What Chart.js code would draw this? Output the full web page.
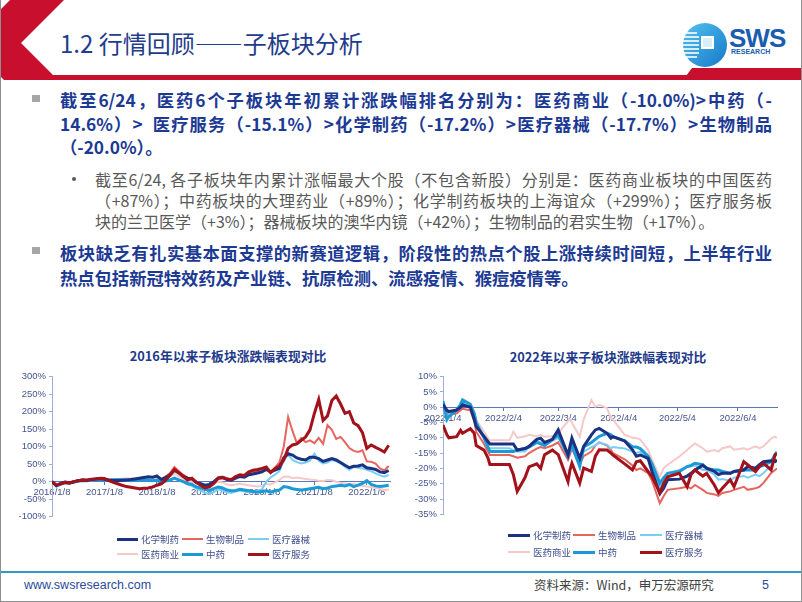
<!DOCTYPE html>
<html lang="zh-CN">
<head>
<meta charset="UTF-8">
<title>1.2 行情回顾——子板块分析</title>
<script src="https://cdn.jsdelivr.net/npm/chart.js"></script>
<style>
  body { margin: 0; background: #fff; }
  .slide { position: relative; width: 802px; height: 602px; overflow: hidden; background: #fff;
           font-family: "Noto Sans CJK SC", sans-serif; }
  .frame { position: absolute; left: 0; top: 0; width: 802px; height: 602px; box-sizing: border-box;
           border: 1px solid #8f8f8f; border-top: none; pointer-events: none; }
  .abs { position: absolute; }
  .title { left: 60px; top: 28px; font-size: 24px; line-height: 30px; color: #1f3c8c; white-space: nowrap; }
  .main { left: 60px; width: 712px; font-size: 17.3px; font-weight: bold; color: #1c3a94; }
  .sub { left: 95px; width: 677px; font-size: 16px; color: #595959; line-height: 21px; }
  .jl { text-align: justify; text-align-last: justify; white-space: nowrap; }
  .sq { width: 8px; height: 7px; background: #a6a6a6; }
  .ctitle { font-size: 12.8px; font-weight: bold; color: #1f3a8a; white-space: nowrap; transform: translateX(-50%); line-height: 16px; }
  .lg { font-size: 9.5px; line-height: 14px; color: #404f8e; white-space: nowrap; }
  canvas { position: absolute; }
  .foot { font-size: 12.5px; line-height: 16px; white-space: nowrap; }
</style>
</head>
<body>
<div class="slide" id="slide">
  <svg class="abs" style="left:0;top:0" width="802" height="90">
    <polygon fill="#c8102e" points="10,0 64,0 21,43 53,75 802,75 802,80 4,80 0,76 0,10"/>
    <polygon fill="#c8102e" points="683,80 692,68 802,68 802,80"/>
    <defs>
      <linearGradient id="lg1" x1="0" y1="0" x2="1" y2="1">
        <stop offset="0" stop-color="#53c1f0"/>
        <stop offset="1" stop-color="#1679c8"/>
      </linearGradient>
    </defs>
    <circle cx="705" cy="45" r="22" fill="url(#lg1)"/>
    <g stroke="#fff" stroke-width="1.6">
      <line x1="683" y1="33" x2="697" y2="33"/>
      <line x1="683" y1="37" x2="699" y2="37"/>
      <line x1="683" y1="41" x2="699" y2="41"/>
      <line x1="683" y1="45" x2="699" y2="45"/>
      <line x1="683" y1="49" x2="699" y2="49"/>
      <line x1="683" y1="53" x2="699" y2="53"/>
      <line x1="685" y1="57" x2="697" y2="57"/>
    </g>
    <rect x="701" y="36" width="13" height="13" fill="#fff"/>
    <rect x="703" y="38" width="9" height="9" fill="#d8eefa"/>
    <text x="729" y="47" font-family="Liberation Sans, Arial" font-weight="bold" font-size="26" fill="#1a5db0" letter-spacing="-1">SWS</text>
    <text x="731" y="54" font-family="Liberation Sans, Arial" font-weight="bold" font-size="7" fill="#1a5db0">RESEARCH</text>
  </svg>

  <div class="abs title">1.2 行情回顾——子板块分析</div>

  <div class="abs sq" style="left:32px;top:95px"></div>
  <div class="abs main" style="top:88px;line-height:23.5px">
    <div class="jl">截至6/24，医药6个子板块年初累计涨跌幅排名分别为：医药商业（-10.0%)&gt;中药（-</div>
    <div class="jl">14.6%）&gt;&nbsp; 医疗服务（-15.1%）&gt;化学制药（-17.2%）&gt;医疗器械（-17.7%）&gt;生物制品</div>
    <div>（-20.0%）。</div>
  </div>

  <div class="abs" style="left:72px;top:177px;width:4px;height:4px;border-radius:2px;background:#595959"></div>
  <div class="abs sub" style="top:168.5px">
    <div class="jl">截至6/24, 各子板块年内累计涨幅最大个股（不包含新股）分别是：医药商业板块的中国医药</div>
    <div class="jl">（+87%）；中药板块的大理药业（+89%）；化学制药板块的上海谊众（+299%）；医疗服务板</div>
    <div>块的兰卫医学（+3%）；器械板块的澳华内镜（+42%）；生物制品的君实生物（+17%）。</div>
  </div>

  <div class="abs sq" style="left:32px;top:247px"></div>
  <div class="abs main" style="top:239.5px;line-height:25px">
    <div class="jl">板块缺乏有扎实基本面支撑的新赛道逻辑，阶段性的热点个股上涨持续时间短，上半年行业</div>
    <div>热点包括新冠特效药及产业链、抗原检测、流感疫情、猴痘疫情等。</div>
  </div>

  <div class="abs ctitle" style="left:228px;top:348px">2016年以来子板块涨跌幅表现对比</div>
  <div class="abs ctitle" style="left:608px;top:349px">2022年以来子板块涨跌幅表现对比</div>

  <canvas id="chart16" width="390" height="162" style="left:10px;top:368px"></canvas>
  <canvas id="chart22" width="385" height="160" style="left:405px;top:368px"></canvas>

  <div class="abs" style="left:0;top:571px;width:802px;height:2px;background:#2e9bc6"></div>
  <div class="abs foot" style="left:24px;top:577px;color:#2b4a9b;font-family:'Liberation Sans',Arial">www.swsresearch.com</div>
  <div class="abs foot" style="left:534px;top:577px;color:#404040">资料来源：Wind，申万宏源研究</div>
  <div class="abs foot" style="left:762px;top:577px;color:#2b4a9b;font-family:'Liberation Sans',Arial">5</div>

  <div class="frame"></div>
</div>

<script>
  const seriesNames = ['化学制药', '生物制品', '医疗器械', '医药商业', '中药', '医疗服务'];
  const seriesColors = ['#1b3282', '#e8645e', '#78cff3', '#f6c9c9', '#1b9ad6', '#a3121b'];
  const seriesWidths = [3, 2, 2, 2, 3, 3];
  const seriesOrder = [1, 4, 3, 5, 2, 0];

  // 2016年以来，按月取值（%），第0个点为2016/1/8
  const monthTicks = [0, 12, 24, 36, 48, 60, 72];
  const monthTickLabels = ['2016/1/8', '2017/1/8', '2018/1/8', '2019/1/8', '2020/1/8', '2021/1/8', '2022/1/8'];
  const chem16 = [0,-11,-5,-1,-3,0,3,5,4,6,8,9,7, 5,4,3,4,5,6,8,10,12,14,13,
    16,6,12,20,33,25,15,10,8,-2,-6,-10, -8,0,10,12,6,4,10,15,13,20,22,25,
    28,35,28,33,38,68,80,76,68,64,62,70, 70,66,58,62,66,62,55,47,40,44,45,48, 40,38,35,28,26,32];
  const bio16 = [0,-12,-6,-2,-3,1,4,6,5,7,9,10,8, 6,5,4,3,5,6,8,10,12,14,13,
    18,8,15,25,42,30,20,12,10,0,-5,-14, -12,-2,12,15,10,8,15,20,18,25,28,30,
    35,40,28,40,55,100,185,145,110,125,113,118, 110,125,108,162,148,122,128,113,96,88,85,90, 58,57,52,38,32,45];
  const dev16 = [0,-13,-8,-3,-5,-2,1,3,2,4,5,6,4, 3,4,5,6,7,6,5,6,8,7,5,
    6,0,2,5,10,5,0,-8,-12,-20,-25,-32, -35,-30,-22,-25,-30,-32,-28,-25,-28,-30,-28,-25,
    -22,0,12,20,30,60,78,62,56,52,55,60, 80,60,52,55,62,58,52,43,34,42,40,38, 34,30,24,18,14,19];
  const comm16 = [0,-10,-5,-1,-2,1,3,4,4,6,7,8,6, 5,6,8,9,10,9,10,11,12,12,10,
    12,5,10,15,22,15,8,2,0,-5,-8,-12, -12,-6,0,-2,-8,-10,-8,-6,-8,-10,-12,-14,
    -12,-6,-8,-2,5,14,15,10,12,10,8,6, 5,3,2,5,4,0,-3,-5,-8,-6,-10,-12, -14,-15,-18,-20,-24,-22];
  const tcm16 = [0,-12,-7,-3,-4,-1,2,3,3,5,6,7,5, 4,5,6,5,4,3,4,5,5,4,3,
    4,-3,2,5,10,5,0,-5,-8,-15,-18,-22, -25,-20,-15,-18,-24,-26,-25,-22,-24,-26,-28,-30,
    -28,-26,-30,-26,-24,-14,-16,-20,-22,-24,-22,-20, -18,-16,-20,-18,-14,-12,-10,-12,-8,-14,-10,-5, 3,-8,-12,-14,-12,-10];
  const serv16 = [0,-10,-6,-2,-4,0,3,5,4,7,8,10,9, 3,-2,-6,-10,-14,-16,-18,-20,-19,-18,-15,
    -10,-6,5,18,35,26,15,5,10,-2,-10,-18, -15,-5,10,12,8,5,15,20,18,28,33,35,
    38,42,26,38,45,62,95,105,108,118,128,148, 195,235,175,188,232,245,222,195,200,168,160,140, 95,105,98,92,85,104];
  const months16 = chem16.map((v, i) => i);

  // 2022年以来，按交易日取值（%），横轴为距2022/1/4的自然日数
  const days22 = [0,2,3,7,9,10,14,16,17,21,23,24,34,36,38,42,44,48,50,52,56,59,64,65,66,70,72,76,78,80,
    84,86,87,93,97,99,101,105,107,111,113,115,121,125,127,129,133,135,139,141,143,147,149,154,156,160,162,164,168,170,171];
  const dayTicks = [0, 31, 59, 90, 120, 151];
  const dayTickLabels = ['2022/1/4', '2022/2/4', '2022/3/4', '2022/4/4', '2022/5/4', '2022/6/4'];
  const chem22 = [1,-1,-1.4,-0.9,0,0.8,0,-4,-6.3,-9.5,-11.2,-12,-12,-12,-14,-13.5,-12.8,-10.5,-10.1,-11.5,-10.5,-7.4,-15.6,-12.8,
    -10.1,-16.7,-12.8,-9,-7.4,-6.9,-8.5,-10.1,-9.6,-11,-13.9,-16,-15.6,-16.7,-21,-28.2,-26.5,-23.7,-23.5,-22.5,-21.6,-20.5,-19,-19.9,
    -21,-22,-21.6,-21.6,-21,-20.5,-19.4,-19.9,-18.8,-17.8,-17.5,-17.8,-17.2];
  const bio22 = [-0.5,-2,-2.5,-2,-1,-0.5,-1,-4.5,-8,-12,-14.5,-15.6,-15.6,-16,-16.5,-16,-15,-13.5,-13,-13.4,-12.5,-11.5,-17.2,-15.5,
    -13.5,-18.8,-16,-14.5,-12.5,-11.5,-12.5,-14,-15,-17,-19,-20.5,-20,-21.5,-24,-31.4,-29,-27,-26.5,-26,-26.5,-25.4,-27,-28,
    -28.5,-29,-28,-27.5,-27,-26,-27,-26.5,-26,-24.8,-21.5,-20.5,-20];
  const dev22 = [2,-3,-2.5,-1,0.5,1.5,0,-3,-6,-10,-13,-13.4,-13.4,-14,-14.5,-14.5,-13,-11,-11.5,-12.5,-11,-10,-15.5,-14.5,
    -13,-18,-14.5,-13,-12.5,-11.5,-12.3,-13.5,-13,-13.5,-14.5,-15,-14.5,-17,-19.5,-26.5,-23.5,-21.5,-20.5,-19.5,-19.4,-19,-20.5,-20.5,
    -22,-23.7,-23.5,-24,-23,-22.5,-23,-22,-22.5,-21.6,-19,-17.5,-17.7];
  const comm22 = [1,-2,-1.5,-1,0.5,1,0,-2,-4,-8,-10,-10.8,-10.8,-8,-10,-9.5,-9,-9.5,-9,-9.6,-9.5,-8.5,-4.5,-4,
    -5,-9.6,-4,2.4,0.2,0.8,-0.3,-3.6,-4,-9,-10,-10.1,-10.6,-13.9,-17.2,-22.7,-19.9,-18.8,-16.1,-14,-12.8,-11.8,-13.4,-14.5,
    -14,-14.5,-13.4,-12.8,-13.9,-13.4,-13.9,-12.8,-13.4,-12.8,-10.2,-9.6,-10];
  const tcm22 = [2,-4,-3,-1,1,2.4,1,-2,-5,-10,-13,-14.5,-14.5,-14.5,-14,-13.5,-13,-11.5,-12,-12.5,-10.5,-9,-16,-14,
    -12.5,-19.4,-13,-11.5,-10.5,-9.5,-8.5,-9,-9.6,-11,-12.9,-13,-13.5,-16,-18.5,-24.8,-23,-21.6,-21,-19.4,-19,-18.3,-18.8,-20,
    -20.5,-20.5,-21,-21.6,-21,-20.5,-20.5,-20.5,-19.4,-19,-17.8,-15.5,-14.6];
  const serv22 = [-5.8,-9,-10,-9.6,-7.5,-8.5,-7,-8.5,-12.5,-14,-16.5,-18.7,-18.7,-22,-27.5,-23,-19.5,-18.5,-20,-15.5,-14,-15.5,-24.3,-20.5,
    -18.3,-24.8,-19.9,-21,-16,-13.9,-14,-15,-15.6,-18.5,-20.5,-17.8,-17.5,-21,-22.7,-28,-24.8,-22.7,-21.6,-26,-22,-20.5,-22.5,-21.6,
    -25.5,-28,-26.5,-23.7,-26,-17.8,-18.8,-21,-19.4,-18.3,-20.5,-15.6,-15.1];

  const tickColor = '#44558f';
  const zeroColor = '#5a78c0';
  const axisColor = '#9fb0d4';

  function drawChart(id, xs, lists, xTicks, xLabels, xMax, yMin, yMax, yStep, yAxisWidth, pad) {
    const datasets = seriesNames.map((name, k) => ({
      label: name,
      data: lists[k].map((v, i) => ({ x: xs[i], y: v })),
      borderColor: seriesColors[k],
      borderWidth: seriesWidths[k],
      pointRadius: 0,
      tension: 0,
      fill: false,
      order: seriesOrder[k]
    }));
    const tickFont = { size: 9.5, family: "'Liberation Sans', Arial, sans-serif" };
    return new Chart(document.getElementById(id), {
      type: 'line',
      data: { datasets },
      options: {
        responsive: false,
        animation: false,
        layout: { padding: pad },
        plugins: { legend: { display: false }, tooltip: { enabled: false } },
        scales: {
          x: {
            type: 'linear', min: 0, max: xMax,
            position: { y: 0 },
            afterBuildTicks: axis => { axis.ticks = xTicks.map(v => ({ value: v })); },
            ticks: {
              autoSkip: false, maxRotation: 0, padding: 2, color: tickColor, font: tickFont,
              callback: v => { const i = xTicks.indexOf(v); return i >= 0 ? xLabels[i] : ''; }
            },
            grid: { drawOnChartArea: false, tickLength: 3, color: zeroColor },
            border: { color: zeroColor, width: 1 }
          },
          y: {
            min: yMin, max: yMax,
            afterFit: s => { s.width = yAxisWidth; },
            ticks: { stepSize: yStep, padding: 3, color: tickColor, font: tickFont, callback: v => v + '%' },
            grid: { drawOnChartArea: false, tickLength: 3, color: axisColor },
            border: { color: axisColor, width: 1 }
          }
        }
      }
    });
  }

  function buildLegend(colX, rowY, lineLen) {
    const slide = document.getElementById('slide');
    seriesNames.forEach((name, k) => {
      const x = colX[k % 3], y = rowY[Math.floor(k / 3)];
      const w = seriesWidths[k];
      const line = document.createElement('div');
      line.className = 'abs';
      line.style.cssText = `left:${x}px;top:${y - w / 2}px;width:${lineLen}px;height:${w}px;background:${seriesColors[k]}`;
      const txt = document.createElement('div');
      txt.className = 'abs lg';
      txt.style.cssText = `left:${x + lineLen + 3}px;top:${y - 7}px`;
      txt.textContent = name;
      slide.appendChild(line);
      slide.appendChild(txt);
    });
  }

  drawChart('chart16', months16, [chem16, bio16, dev16, comm16, tcm16, serv16],
    monthTicks, monthTickLabels, 77.3, -100, 300, 50, 42, { top: 8, bottom: 13.3, right: 10, left: 0 });
  drawChart('chart22', days22, [chem22, bio22, dev22, comm22, tcm22, serv22],
    dayTicks, dayTickLabels, 171, -35, 10, 5, 38, { top: 8.7, bottom: 13.7, right: 13, left: 0 });

  buildLegend([117, 182, 248], [539, 554], 21);
  buildLegend([508, 573, 640], [535, 552], 22);
</script>
</body>
</html>
